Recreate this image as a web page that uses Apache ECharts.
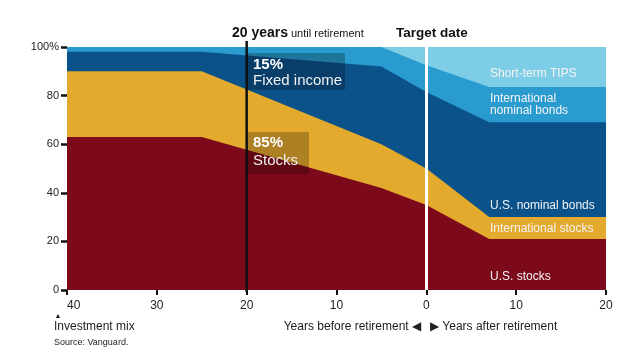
<!DOCTYPE html>
<html><head><meta charset="utf-8">
<script src="https://cdn.jsdelivr.net/npm/echarts@6/dist/echarts.min.js"></script>
<style>html,body{margin:0;padding:0;background:#fff}#c{width:640px;height:360px}</style>
</head><body><div id="c"></div>
<script>
// Years relative to retirement (negative = before)
const years = [-40, -25, -5, 0, 7, 20];
const usStocks   = [63, 63, 42, 35, 21, 21];
const intlStocks = [27, 27, 18, 15, 9, 9];
const usBonds    = [8, 8, 32, 31.5, 39, 39];
const intlBonds  = [2, 2, 8, 11, 14.5, 14.5];
const tips       = [0, 0, 0, 7.5, 16.5, 16.5];
const seriesNames = ['U.S. stocks', 'International stocks', 'U.S. nominal bonds', 'International nominal bonds', 'Short-term TIPS'];
const seriesColors = ['#7d0a1a', '#e4aa2e', '#0b528a', '#2a9bcf', '#7ecde6'];
const markerYears = [-20, 0];

const FONT = '"Liberation Sans", Arial, sans-serif';
const chart = echarts.init(document.getElementById('c'), null, {renderer: 'canvas'});
const allValues = [usStocks, intlStocks, usBonds, intlBonds, tips];

// cumulative tops (stacking done here, bottom layer first)
const cumulative = [];
allValues.forEach((vals, i) => {
  cumulative.push(vals.map((v, k) => v + (i > 0 ? cumulative[i - 1][k] : 0)));
});

const series = [];
for (let i = allValues.length - 1; i >= 0; i--) {
  series.push({
    name: seriesNames[i],
    type: 'line',
    data: years.map((y, k) => [y, cumulative[i][k]]),
    symbol: 'none',
    lineStyle: {width: 0},
    areaStyle: {color: seriesColors[i], opacity: 1, origin: 'start'},
    itemStyle: {color: seriesColors[i]},
    emphasis: {disabled: true},
    silent: true,
    clip: false
  });
}
series[series.length - 1].markLine = {
  silent: true,
  symbol: ['none', 'none'],
  label: {show: false},
  animation: false,
  data: [
    [{coord: [markerYears[1], 0], lineStyle: {color: '#fff', width: 3, type: 'solid'}}, {coord: [markerYears[1], 100]}]
  ]
};

function txt(x, y, text, font, color, align) {
  return {type: 'text', x: x, y: y, z: 100, silent: true,
    style: {text: text, font: font, fill: color || '#fff', align: align || 'left', verticalAlign: 'middle', lineHeight: 12}};
}
function box(x, y, w, h) {
  return {type: 'rect', z: 99, silent: true, shape: {x: x, y: y, width: w, height: h}, style: {fill: 'rgba(0,0,0,0.24)'}};
}

chart.setOption({
  animation: false,
  backgroundColor: '#fff',
  grid: {left: 67, right: 34, top: 47, bottom: 70},
  xAxis: {
    type: 'value', min: -40, max: 20, interval: 10,
    axisLine: {show: false, onZero: false},
    axisTick: {show: true, length: 5, lineStyle: {color: '#111', width: 2}},
    splitLine: {show: false},
    axisLabel: {color: '#222', fontSize: 12, fontFamily: FONT, margin: 10, alignMinLabel: 'left',
      formatter: v => String(Math.abs(v))}
  },
  yAxis: {
    type: 'value', min: 0, max: 100, interval: 20,
    axisLine: {show: false, onZero: false},
    axisTick: {show: true, length: 6, lineStyle: {color: '#111', width: 2.5}},
    splitLine: {show: false},
    axisLabel: {color: '#222', fontSize: 11, fontFamily: FONT, margin: 8,
      formatter: v => v === 100 ? '100%' : String(v)}
  },
  series: series,
  graphic: [
    txt(232, 33, '20 years', 'bold 14px ' + FONT, '#111'),
    txt(291, 34, 'until retirement', '11px ' + FONT, '#111'),
    txt(396, 33, 'Target date', 'bold 13.5px ' + FONT, '#111'),
    box(247, 53, 98, 37),
    txt(253, 65, '15%', 'bold 15px ' + FONT, '#fff'),
    txt(253, 81, 'Fixed income', '15px ' + FONT, '#f2f2f2'),
    box(247, 132, 62, 42),
    txt(253, 143, '85%', 'bold 15px ' + FONT, '#fff'),
    txt(253, 161, 'Stocks', '15px ' + FONT, '#f2f2f2'),
    txt(490, 74, seriesNames[4], '12px ' + FONT, '#f4f4f4'),
    txt(490, 105, 'International\nnominal bonds', '12px ' + FONT, '#f4f4f4'),
    txt(490, 206, seriesNames[2], '12px ' + FONT, '#f4f4f4'),
    txt(490, 229, seriesNames[1], '12px ' + FONT, '#f4f4f4'),
    txt(490, 277, seriesNames[0], '12px ' + FONT, '#f4f4f4'),
    txt(58, 316, '▲', '7px ' + FONT, '#111', 'center'),
    txt(54, 327, 'Investment mix', '12px ' + FONT, '#222'),
    txt(54, 343, 'Source: Vanguard.', '9px ' + FONT, '#222'),
    txt(421, 327, 'Years before retirement ◀', '12px ' + FONT, '#222', 'right'),
    txt(430, 327, '▶ Years after retirement', '12px ' + FONT, '#222')
  ]
});

// 20-years marker line, positioned through the chart's own scales
const pBottom = chart.convertToPixel({gridIndex: 0}, [markerYears[0], 0]);
const pTop = chart.convertToPixel({gridIndex: 0}, [markerYears[0], 100]);
chart.setOption({
  graphic: [{
    type: 'line', id: 'marker20', z: 98, silent: true,
    shape: {x1: pBottom[0], y1: pBottom[1] + 2, x2: pTop[0], y2: pTop[1] - 6},
    style: {stroke: '#111', lineWidth: 2.5}
  }]
});
</script></body></html>
